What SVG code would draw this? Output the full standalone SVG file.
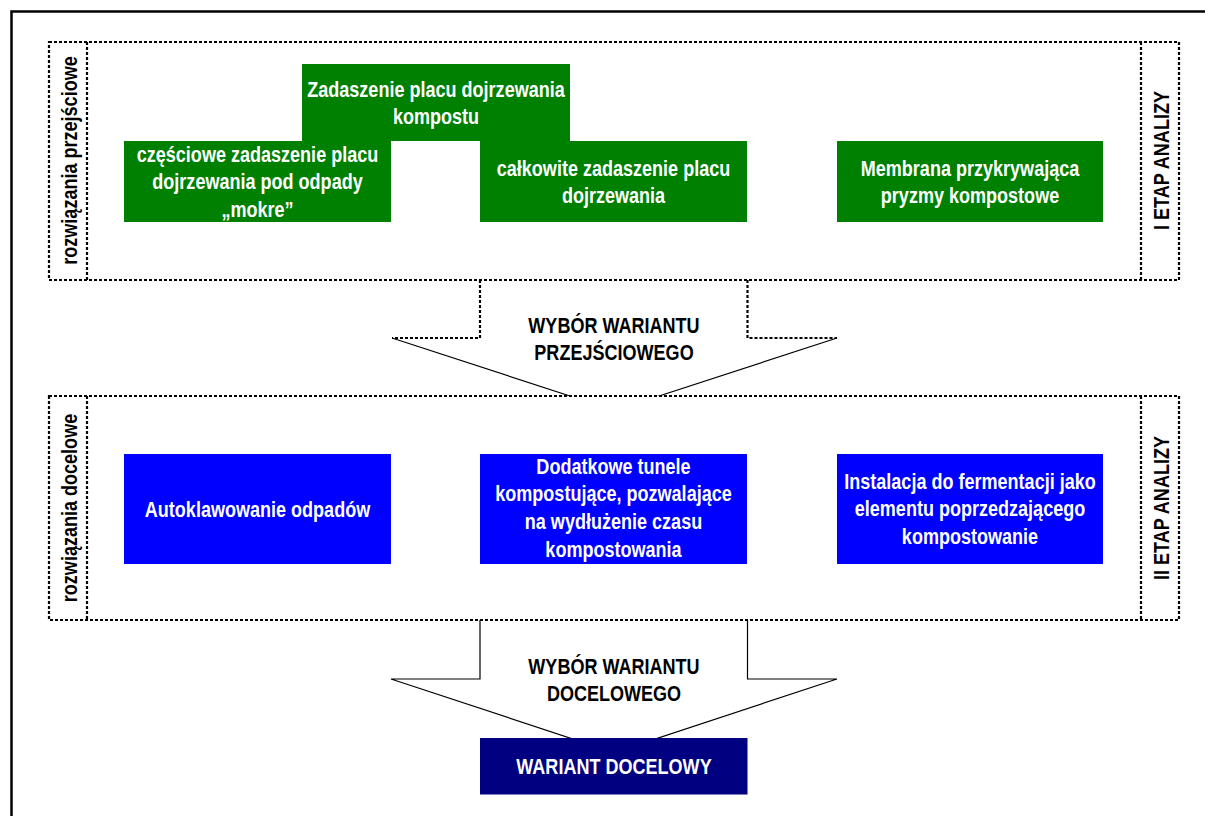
<svg xmlns="http://www.w3.org/2000/svg" width="1205" height="816" viewBox="0 0 1205 816">
<style>
.frame{fill:none;stroke:#000;stroke-width:2.5}
.dot{fill:none;stroke:#000;stroke-width:2.2;stroke-dasharray:3 2}
.dotw{fill:#fff;stroke:#000;stroke-width:2.2;stroke-dasharray:3 2}
.thin{fill:none;stroke:#000;stroke-width:1.2}
.g{fill:#008000}
.b{fill:#0000ff}
.n{fill:#000080}
.t{font-family:"Liberation Sans",Arial,sans-serif;font-weight:bold;font-size:22px;text-anchor:middle}
.w{fill:#fff}
.k{fill:#000}
</style>
<rect x="0" y="0" width="1205" height="816" fill="#fff"/>
<rect class="frame" x="11.5" y="11.5" width="1220" height="830"/>

<g id="stage1">
  <rect class="dotw" x="49" y="42" width="1130" height="238"/>
  <line class="dot" x1="87" y1="42" x2="87" y2="280"/>
  <line class="dot" x1="1141" y1="42" x2="1141" y2="280"/>
  <text class="t k" transform="translate(77,160.5) rotate(-90) scale(0.82,1)">rozwiązania przejściowe</text>
  <text class="t k" transform="translate(1168.5,160.5) rotate(-90) scale(0.82,1)">I ETAP ANALIZY</text>
</g>

<g id="connectors">
  <g id="arrow1">
    <polyline class="dot" points="480,280 480,338 392,338"/>
    <polyline class="dot" points="747.5,280 747.5,338 837,338"/>
    <line class="thin" x1="392" y1="338" x2="614.5" y2="410.5"/>
    <line class="thin" x1="837" y1="338" x2="614.5" y2="410.5"/>
    <text class="t k" transform="translate(614,333) scale(0.82,1)"><tspan x="0">WYBÓR WARIANTU</tspan><tspan x="0" dy="27">PRZEJŚCIOWEGO</tspan></text>
  </g>
  <g id="arrow2">
    <polyline class="thin" points="480,620 480,679 391,679 614,752.5 837,679 747.5,679 747.5,620"/>
    <text class="t k" transform="translate(614,673.5) scale(0.82,1)"><tspan x="0">WYBÓR WARIANTU</tspan><tspan x="0" dy="27.5">DOCELOWEGO</tspan></text>
  </g>
</g>

<g id="stage2">
  <rect class="dotw" x="49" y="396" width="1130" height="224"/>
  <line class="dot" x1="87" y1="396" x2="87" y2="620"/>
  <line class="dot" x1="1141" y1="396" x2="1141" y2="620"/>
  <text class="t k" transform="translate(77,508) rotate(-90) scale(0.82,1)">rozwiązania docelowe</text>
  <text class="t k" transform="translate(1168.5,508) rotate(-90) scale(0.82,1)">II ETAP ANALIZY</text>
</g>

<g id="node-zadaszenie">
  <rect class="g" x="302" y="64" width="268" height="77"/>
  <text class="t w" transform="translate(436,96.5) scale(0.82,1)"><tspan x="0">Zadaszenie placu dojrzewania</tspan><tspan x="0" dy="27.5">kompostu</tspan></text>
</g>
<g id="node-czesciowe">
  <rect class="g" x="124" y="141" width="267" height="81"/>
  <text class="t w" transform="translate(257.5,161.5) scale(0.82,1)"><tspan x="0">częściowe zadaszenie placu</tspan><tspan x="0" dy="28">dojrzewania pod odpady</tspan><tspan x="0" dy="28">„mokre”</tspan></text>
</g>
<g id="node-calkowite">
  <rect class="g" x="480" y="141" width="267" height="81"/>
  <text class="t w" transform="translate(613.5,175.5) scale(0.82,1)"><tspan x="0">całkowite zadaszenie placu</tspan><tspan x="0" dy="27.5">dojrzewania</tspan></text>
</g>
<g id="node-membrana">
  <rect class="g" x="837" y="141" width="266" height="81"/>
  <text class="t w" transform="translate(970,175.5) scale(0.82,1)"><tspan x="0">Membrana przykrywająca</tspan><tspan x="0" dy="27.5">pryzmy kompostowe</tspan></text>
</g>

<g id="node-autoklawowanie">
  <rect class="b" x="124" y="454" width="267" height="110"/>
  <text class="t w" transform="translate(257.5,516.5) scale(0.82,1)">Autoklawowanie odpadów</text>
</g>
<g id="node-tunele">
  <rect class="b" x="480" y="454" width="267" height="110"/>
  <text class="t w" transform="translate(613.5,473.5) scale(0.82,1)"><tspan x="0">Dodatkowe tunele</tspan><tspan x="0" dy="28">kompostujące, pozwalające</tspan><tspan x="0" dy="28">na wydłużenie czasu</tspan><tspan x="0" dy="28">kompostowania</tspan></text>
</g>
<g id="node-fermentacja">
  <rect class="b" x="837" y="454" width="266" height="110"/>
  <text class="t w" transform="translate(970,488.5) scale(0.82,1)"><tspan x="0">Instalacja do fermentacji jako</tspan><tspan x="0" dy="28">elementu poprzedzającego</tspan><tspan x="0" dy="28">kompostowanie</tspan></text>
</g>

<g id="node-wariant">
  <rect class="n" x="480" y="738" width="267.5" height="56.5"/>
  <text class="t w" transform="translate(614,773.5) scale(0.82,1)">WARIANT DOCELOWY</text>
</g>
</svg>
